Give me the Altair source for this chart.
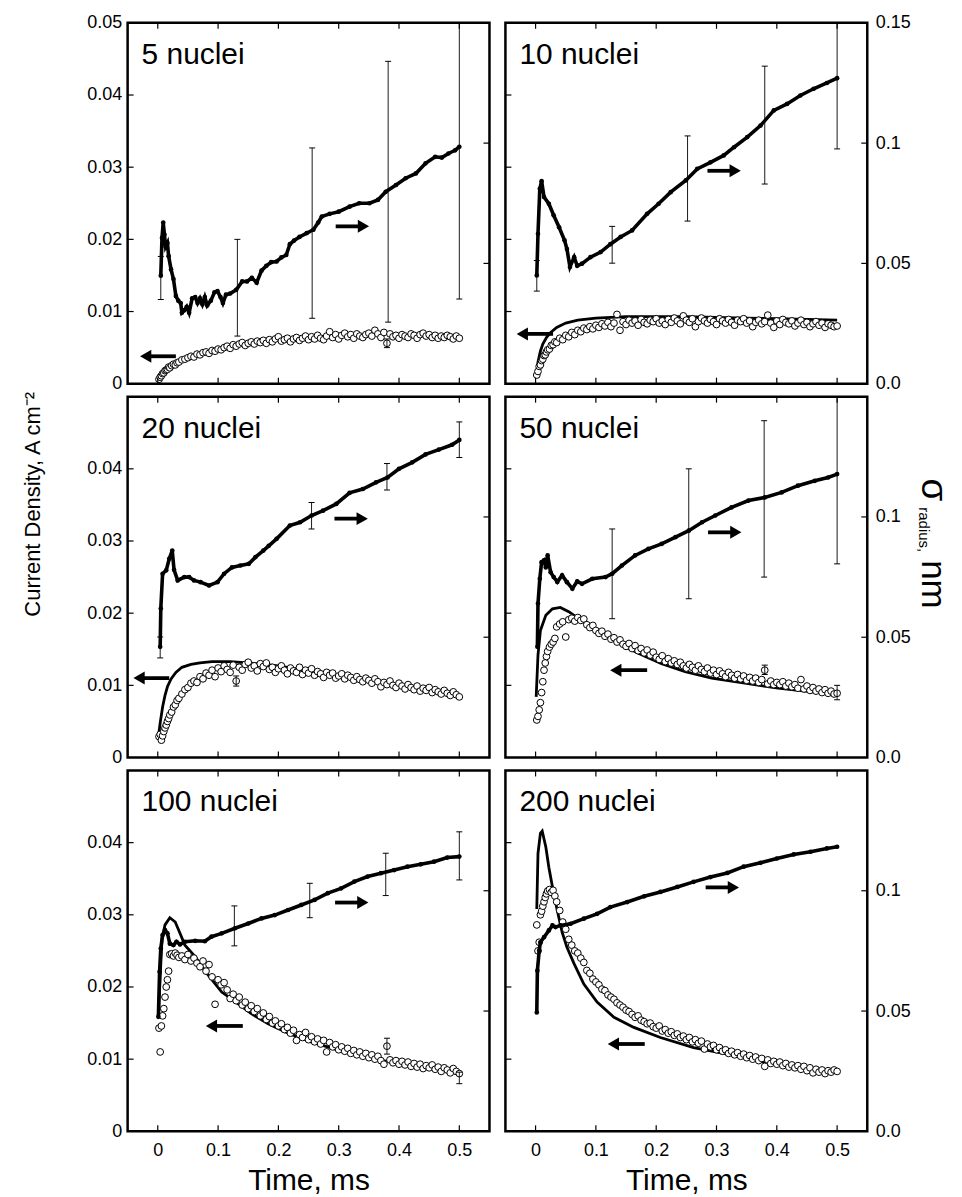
import altair as alt
import pandas as pd

FONT = "Liberation Sans"
W, H = 363, 362
TICK = 6
XDOM = [-0.05, 0.55]
JDOM = [0.0, 0.05]
SDOM = [0.0, 0.15]

X_TICKS = [0, 0.1, 0.2, 0.3, 0.4, 0.5]
J_TICKS_IN = [0.01, 0.02, 0.03, 0.04]
S_TICKS_IN = [0.05, 0.1]
J_LABELS_TOP = [0, 0.01, 0.02, 0.03, 0.04, 0.05]
J_LABELS = [0, 0.01, 0.02, 0.03, 0.04]
S_LABELS_TOP = [0, 0.05, 0.1, 0.15]
S_LABELS = [0, 0.05, 0.1]

LABELS = ["5 nuclei", "10 nuclei", "20 nuclei", "50 nuclei", "100 nuclei", "200 nuclei"]
LEFT_TITLE = "Current Density, A cm\u207b\u00b2"

# sampling times of the open circles (current density)
CIRC_T = [0.002, 0.004, 0.006, 0.008, 0.010, 0.012, 0.014, 0.016, 0.018, 0.020, 0.023, 0.026, 0.029, 0.032, 0.035,
          0.040, 0.045, 0.050, 0.055, 0.060, 0.065, 0.070, 0.075, 0.080, 0.085,
          0.090, 0.095, 0.100, 0.105, 0.110, 0.115, 0.120, 0.125, 0.130, 0.135,
          0.140, 0.145, 0.150, 0.155, 0.160, 0.165, 0.170, 0.175, 0.180, 0.185,
          0.190, 0.195, 0.200, 0.205, 0.210, 0.215, 0.220, 0.225, 0.230, 0.235,
          0.240, 0.245, 0.250, 0.255, 0.260, 0.265, 0.270, 0.275, 0.280, 0.285,
          0.290, 0.295, 0.300, 0.305, 0.310, 0.315, 0.320, 0.325, 0.330, 0.335,
          0.340, 0.345, 0.350, 0.355, 0.360, 0.365, 0.370, 0.375, 0.380, 0.385,
          0.390, 0.395, 0.400, 0.405, 0.410, 0.415, 0.420, 0.425, 0.430, 0.435,
          0.440, 0.445, 0.450, 0.455, 0.460, 0.465, 0.470, 0.475, 0.480, 0.485,
          0.490, 0.495, 0.500]

P1_J = [0.0006, 0.0009, 0.0011, 0.0014, 0.0015, 0.0018, 0.0019, 0.0020, 0.0023, 0.0022, 0.0025, 0.0027, 0.0026, 0.0029, 0.0030,
        0.0033, 0.0034, 0.0036, 0.0038, 0.0037, 0.0041, 0.0040, 0.0043, 0.0044, 0.0042,
        0.0046, 0.0045, 0.0048, 0.0047, 0.0050, 0.0052, 0.0049, 0.0054, 0.0052, 0.0055,
        0.0057, 0.0053, 0.0056, 0.0058, 0.0055, 0.0059, 0.0057, 0.0060, 0.0056, 0.0061,
        0.0058, 0.0062, 0.0065, 0.0059, 0.0061, 0.0063, 0.0058, 0.0062, 0.0064, 0.0060,
        0.0063, 0.0066, 0.0061, 0.0065, 0.0062, 0.0067, 0.0063, 0.0061, 0.0066, 0.0072,
        0.0064, 0.0068, 0.0062, 0.0067, 0.0070, 0.0065, 0.0068, 0.0063, 0.0069, 0.0066,
        0.0064, 0.0068, 0.0070, 0.0066, 0.0074, 0.0069, 0.0064, 0.0071, 0.0056, 0.0069,
        0.0065, 0.0067, 0.0063, 0.0068, 0.0066, 0.0064, 0.0069, 0.0067, 0.0063, 0.0068,
        0.0070, 0.0066, 0.0068, 0.0064, 0.0067, 0.0063, 0.0066, 0.0064, 0.0067, 0.0065,
        0.0062, 0.0066, 0.0063]
P2_J = [0.0012, 0.0017, 0.0024, 0.0026, 0.0032, 0.0034, 0.0039, 0.0040, 0.0044, 0.0047, 0.0048, 0.0053, 0.0054, 0.0058, 0.0057,
        0.0063, 0.0061, 0.0067, 0.0065, 0.0071, 0.0068, 0.0074, 0.0072, 0.0077, 0.0075,
        0.0079, 0.0076, 0.0081, 0.0078, 0.0083, 0.0080, 0.0085, 0.0079, 0.0084, 0.0096,
        0.0074, 0.0086, 0.0082, 0.0088, 0.0084, 0.0087, 0.0081, 0.0089, 0.0085, 0.0083,
        0.0088, 0.0086, 0.0090, 0.0084, 0.0087, 0.0082, 0.0089, 0.0085, 0.0091, 0.0087,
        0.0083, 0.0094, 0.0088, 0.0085, 0.0090, 0.0079, 0.0086, 0.0091, 0.0087, 0.0084,
        0.0089, 0.0086, 0.0082, 0.0090, 0.0087, 0.0084, 0.0089, 0.0085, 0.0081, 0.0088,
        0.0086, 0.0090, 0.0084, 0.0087, 0.0079, 0.0085, 0.0088, 0.0083, 0.0086, 0.0095,
        0.0084, 0.0078, 0.0087, 0.0082, 0.0089, 0.0085, 0.0083, 0.0087, 0.0080, 0.0084,
        0.0088, 0.0082, 0.0085, 0.0079, 0.0083, 0.0086, 0.0081, 0.0084, 0.0078, 0.0083,
        0.0081, 0.0079, 0.0080]
P3_J = [0.0029, 0.0032, 0.0024, 0.0030, 0.0036, 0.0041, 0.0045, 0.0050, 0.0054, 0.0059, 0.0063, 0.0070, 0.0073, 0.0079, 0.0082,
        0.0088, 0.0094, 0.0097, 0.0103, 0.0106, 0.0104, 0.0112, 0.0109, 0.0117, 0.0114,
        0.0121, 0.0112, 0.0124, 0.0119, 0.0127, 0.0122, 0.0118, 0.0128, 0.0106, 0.0125,
        0.0121, 0.0129, 0.0132, 0.0124, 0.0127, 0.0120, 0.0130, 0.0126, 0.0131, 0.0122,
        0.0125, 0.0118, 0.0123, 0.0127, 0.0121, 0.0116, 0.0124, 0.0120, 0.0118, 0.0125,
        0.0115, 0.0121, 0.0117, 0.0123, 0.0114, 0.0119, 0.0116, 0.0111, 0.0118, 0.0114,
        0.0117, 0.0110, 0.0113, 0.0116, 0.0109, 0.0114, 0.0111, 0.0107, 0.0112, 0.0108,
        0.0105, 0.0110, 0.0107, 0.0103, 0.0109, 0.0105, 0.0098, 0.0104, 0.0101, 0.0106,
        0.0100, 0.0097, 0.0103, 0.0099, 0.0095, 0.0101, 0.0097, 0.0094, 0.0099, 0.0092,
        0.0096, 0.0093, 0.0097, 0.0090, 0.0094, 0.0091, 0.0088, 0.0093, 0.0089, 0.0086,
        0.0091, 0.0087, 0.0084]
P4_J = [0.0052, 0.0057, 0.0066, 0.0076, 0.0090, 0.0105, 0.0121, 0.0131, 0.0140, 0.0147, 0.0153, 0.0157, 0.0160, 0.0165, 0.0181,
        0.0185, 0.0188, 0.0167, 0.0191, 0.0193, 0.0189, 0.0194, 0.0190, 0.0192, 0.0184,
        0.0180, 0.0183, 0.0176, 0.0172, 0.0175, 0.0168, 0.0171, 0.0164, 0.0166, 0.0160,
        0.0163, 0.0157, 0.0154, 0.0158, 0.0151, 0.0155, 0.0148, 0.0151, 0.0145, 0.0149,
        0.0142, 0.0146, 0.0139, 0.0136, 0.0141, 0.0133, 0.0137, 0.0131, 0.0134, 0.0129,
        0.0132, 0.0127, 0.0124, 0.0129, 0.0125, 0.0121, 0.0127, 0.0122, 0.0119, 0.0124,
        0.0117, 0.0121, 0.0115, 0.0120, 0.0116, 0.0112, 0.0118, 0.0114, 0.0110, 0.0115,
        0.0109, 0.0113, 0.0107, 0.0111, 0.0106, 0.0110, 0.0104, 0.0108, 0.0121, 0.0102,
        0.0106, 0.0101, 0.0104, 0.0101, 0.0105, 0.0099, 0.0103, 0.0098, 0.0101, 0.0096,
        0.0108, 0.0095, 0.0099, 0.0093, 0.0097, 0.0092, 0.0095, 0.0090, 0.0094, 0.0089,
        0.0092, 0.0088, 0.0089]
P5_J = [0.0143, 0.0110, 0.0146, 0.0160, 0.0170, 0.0186, 0.0200, 0.0210, 0.0222, 0.0245, 0.0246, 0.0243, 0.0247, 0.0244, 0.0241,
        0.0243, 0.0238, 0.0245, 0.0236, 0.0240, 0.0233, 0.0228, 0.0236, 0.0222, 0.0231,
        0.0214, 0.0176, 0.0210, 0.0203, 0.0206, 0.0196, 0.0184, 0.0190, 0.0181, 0.0186,
        0.0175, 0.0179, 0.0170, 0.0174, 0.0166, 0.0170, 0.0160, 0.0164, 0.0155, 0.0159,
        0.0150, 0.0153, 0.0146, 0.0149, 0.0141, 0.0144, 0.0136, 0.0140, 0.0126, 0.0134,
        0.0130, 0.0137, 0.0127, 0.0131, 0.0124, 0.0128, 0.0121, 0.0126, 0.0110, 0.0123,
        0.0117, 0.0120, 0.0113, 0.0117, 0.0111, 0.0115, 0.0108, 0.0112, 0.0106, 0.0110,
        0.0104, 0.0108, 0.0102, 0.0106, 0.0100, 0.0104, 0.0098, 0.0093, 0.0118, 0.0099,
        0.0095, 0.0098, 0.0093, 0.0097, 0.0092, 0.0096, 0.0090, 0.0094, 0.0089, 0.0093,
        0.0087, 0.0091, 0.0088, 0.0092, 0.0086, 0.0089, 0.0083, 0.0088, 0.0085, 0.0081,
        0.0087, 0.0083, 0.0080]
P6_J = [0.0286, 0.0250, 0.0262, 0.0300, 0.0305, 0.0312, 0.0318, 0.0324, 0.0329, 0.0333, 0.0335, 0.0331, 0.0334, 0.0326, 0.0318,
        0.0306, 0.0290, 0.0280, 0.0266, 0.0258, 0.0250, 0.0247, 0.0240, 0.0234, 0.0223,
        0.0219, 0.0211, 0.0207, 0.0203, 0.0197, 0.0195, 0.0189, 0.0186, 0.0183, 0.0178,
        0.0175, 0.0172, 0.0168, 0.0166, 0.0162, 0.0158, 0.0160, 0.0154, 0.0152, 0.0149,
        0.0150, 0.0145, 0.0143, 0.0146, 0.0139, 0.0141, 0.0136, 0.0138, 0.0133, 0.0135,
        0.0130, 0.0132, 0.0127, 0.0130, 0.0124, 0.0127, 0.0122, 0.0125, 0.0114, 0.0121,
        0.0117, 0.0119, 0.0113, 0.0116, 0.0111, 0.0113, 0.0108, 0.0111, 0.0106, 0.0109,
        0.0104, 0.0107, 0.0102, 0.0105, 0.0100, 0.0103, 0.0098, 0.0101, 0.0090, 0.0099,
        0.0094, 0.0097, 0.0093, 0.0096, 0.0091, 0.0094, 0.0089, 0.0092, 0.0088, 0.0091,
        0.0086, 0.0090, 0.0084, 0.0088, 0.0081, 0.0086, 0.0082, 0.0085, 0.0080, 0.0084,
        0.0082, 0.0085, 0.0083]

# theoretical current transients (solid lines)
P2_TH_T = [0.001, 0.004, 0.008, 0.012, 0.018, 0.025, 0.035, 0.05, 0.07, 0.1, 0.15, 0.2, 0.25, 0.3, 0.35, 0.4, 0.45, 0.5]
P2_TH_J = [0.0010, 0.0030, 0.0045, 0.0055, 0.0064, 0.0071, 0.0078, 0.0084, 0.0088, 0.0091, 0.0093, 0.0093, 0.0093,
           0.0092, 0.0091, 0.0090, 0.0089, 0.0088]
P3_TH_T = [0.002, 0.004, 0.008, 0.012, 0.016, 0.022, 0.03, 0.04, 0.055, 0.07, 0.09, 0.12, 0.15, 0.2, 0.25, 0.3, 0.35,
           0.4, 0.45, 0.5]
P3_TH_J = [0.0035, 0.0048, 0.0070, 0.0086, 0.0098, 0.0109, 0.0118, 0.0125, 0.0129, 0.0131, 0.0133, 0.0133, 0.0131,
           0.0127, 0.0120, 0.0113, 0.0106, 0.0099, 0.0093, 0.0087]
P4_TH_T = [0.001, 0.004, 0.008, 0.017, 0.028, 0.041, 0.055, 0.072, 0.099, 0.127, 0.154, 0.182, 0.209, 0.248, 0.292,
           0.347, 0.402, 0.458, 0.5]
P4_TH_J = [0.0084, 0.0142, 0.0176, 0.0197, 0.0206, 0.0208, 0.0202, 0.0192, 0.0176, 0.0163, 0.0151, 0.0140, 0.0130,
           0.0119, 0.0110, 0.0103, 0.0096, 0.0091, 0.0087]
P5_TH_T = [0.001, 0.007, 0.012, 0.020, 0.029, 0.037, 0.045, 0.062, 0.084, 0.106, 0.128, 0.155, 0.183, 0.216, 0.254,
           0.309, 0.364, 0.419, 0.5]
P5_TH_J = [0.0161, 0.0267, 0.0286, 0.0296, 0.0290, 0.0274, 0.0258, 0.0242, 0.0216, 0.0193, 0.0180, 0.0163, 0.0149,
           0.0136, 0.0124, 0.0110, 0.0099, 0.0092, 0.0082]
P6_TH_T = [0.002, 0.004, 0.008, 0.011, 0.017, 0.022, 0.029, 0.036, 0.044, 0.052, 0.064, 0.08, 0.102, 0.13, 0.163,
           0.207, 0.262, 0.318, 0.373, 0.428, 0.5]
P6_TH_J = [0.0308, 0.0385, 0.0413, 0.0416, 0.0394, 0.0366, 0.0334, 0.0306, 0.0276, 0.0255, 0.0232, 0.0204, 0.0179,
           0.0158, 0.0144, 0.0130, 0.0116, 0.0107, 0.0097, 0.0090, 0.0083]

# sigma(radius) curves (filled dots, right axis)
P1_S_T = [0.005, 0.007, 0.009, 0.011, 0.013, 0.016, 0.018, 0.022, 0.026, 0.030, 0.034, 0.038, 0.040, 0.044, 0.048,
          0.052, 0.057, 0.062, 0.066, 0.070, 0.074, 0.078, 0.082, 0.088, 0.094, 0.099, 0.104, 0.108, 0.113, 0.120,
          0.130, 0.140, 0.148, 0.156, 0.164, 0.172, 0.180, 0.188, 0.197, 0.205, 0.213, 0.219, 0.226, 0.235, 0.247,
          0.258, 0.266, 0.272, 0.285, 0.300, 0.318, 0.334, 0.351, 0.365, 0.378, 0.395, 0.411, 0.428, 0.444, 0.460,
          0.471, 0.482, 0.493, 0.500]
P1_S = [0.0449, 0.0606, 0.0670, 0.0620, 0.0570, 0.0585, 0.0530, 0.0475, 0.0435, 0.0365, 0.0345, 0.0335, 0.0295,
        0.0305, 0.0320, 0.0295, 0.0355, 0.0360, 0.0335, 0.0355, 0.0330, 0.0360, 0.0325, 0.0345, 0.0380, 0.0385,
        0.0360, 0.0335, 0.0370, 0.0375, 0.0390, 0.0425, 0.0425, 0.0440, 0.0420, 0.0470, 0.0490, 0.0505, 0.0508,
        0.0525, 0.0535, 0.0580, 0.0595, 0.0610, 0.0626, 0.0640, 0.0670, 0.0695, 0.0706, 0.0715, 0.0736, 0.0750,
        0.0750, 0.0764, 0.0798, 0.0826, 0.0854, 0.0874, 0.0916, 0.0943, 0.0940, 0.0957, 0.0970, 0.0985]
P2_S_T = [0.002, 0.004, 0.007, 0.010, 0.014, 0.022, 0.030, 0.039, 0.048, 0.052, 0.057, 0.064, 0.069, 0.077, 0.091,
          0.108, 0.124, 0.141, 0.160, 0.185, 0.204, 0.224, 0.249, 0.268, 0.290, 0.312, 0.329, 0.351, 0.373, 0.395,
          0.417, 0.439, 0.461, 0.483, 0.500]
P2_S = [0.045, 0.0623, 0.081, 0.0842, 0.0776, 0.0748, 0.070, 0.065, 0.0596, 0.056, 0.0485, 0.0526, 0.049, 0.0499,
        0.0526, 0.0547, 0.058, 0.061, 0.0637, 0.0706, 0.0748, 0.0796, 0.0845, 0.0893, 0.092, 0.0949, 0.0983, 0.1025,
        0.1073, 0.1136, 0.1163, 0.1198, 0.1226, 0.125, 0.127]
P3_S_T = [0.004, 0.005, 0.008, 0.014, 0.019, 0.024, 0.027, 0.033, 0.044, 0.052, 0.060, 0.071, 0.085, 0.099, 0.110,
          0.123, 0.137, 0.151, 0.162, 0.175, 0.184, 0.197, 0.219, 0.236, 0.255, 0.274, 0.296, 0.318, 0.340, 0.362,
          0.381, 0.400, 0.422, 0.444, 0.466, 0.488, 0.500]
P3_S = [0.046, 0.0619, 0.0764, 0.0778, 0.0826, 0.086, 0.078, 0.0736, 0.075, 0.075, 0.0736, 0.0729, 0.0715, 0.0729,
        0.0764, 0.079, 0.0798, 0.0805, 0.0833, 0.086, 0.088, 0.0909, 0.0964, 0.0978, 0.1006, 0.1026, 0.1054, 0.110,
        0.1116, 0.1144, 0.1164, 0.120, 0.1227, 0.126, 0.128, 0.130, 0.132]
P4_S_T = [0.003, 0.004, 0.007, 0.010, 0.014, 0.017, 0.020, 0.025, 0.030, 0.036, 0.044, 0.052, 0.061, 0.069, 0.077,
          0.094, 0.116, 0.127, 0.143, 0.165, 0.187, 0.209, 0.232, 0.254, 0.276, 0.298, 0.325, 0.353, 0.380, 0.408,
          0.435, 0.463, 0.485, 0.500]
P4_S = [0.046, 0.064, 0.0743, 0.0812, 0.082, 0.079, 0.084, 0.077, 0.075, 0.073, 0.0757, 0.0729, 0.0702, 0.0732,
        0.0722, 0.0743, 0.075, 0.0764, 0.0798, 0.084, 0.0867, 0.0888, 0.0916, 0.0943, 0.0978, 0.1006, 0.104, 0.1068,
        0.1081, 0.1102, 0.113, 0.115, 0.1164, 0.1178]
P5_S_T = [0.001, 0.003, 0.005, 0.008, 0.012, 0.016, 0.020, 0.026, 0.031, 0.037, 0.045, 0.062, 0.078, 0.089, 0.106,
          0.128, 0.150, 0.172, 0.194, 0.216, 0.238, 0.260, 0.282, 0.304, 0.326, 0.348, 0.370, 0.392, 0.414, 0.436,
          0.458, 0.480, 0.500]
P5_S = [0.0476, 0.0663, 0.076, 0.0816, 0.0837, 0.0823, 0.078, 0.0774, 0.0788, 0.0777, 0.0788, 0.0792, 0.079, 0.0809,
        0.0823, 0.0844, 0.0864, 0.0885, 0.0899, 0.092, 0.0941, 0.0962, 0.099, 0.101, 0.1038, 0.1059, 0.1073, 0.1086,
        0.110, 0.111, 0.1121, 0.1138, 0.1142]
P6_S_T = [0.002, 0.003, 0.006, 0.008, 0.014, 0.022, 0.028, 0.033, 0.041, 0.058, 0.080, 0.102, 0.124, 0.152, 0.180,
          0.207, 0.235, 0.262, 0.290, 0.318, 0.345, 0.373, 0.400, 0.428, 0.456, 0.483, 0.500]
P6_S = [0.0494, 0.0668, 0.0751, 0.0786, 0.0807, 0.0835, 0.0856, 0.0849, 0.0856, 0.0863, 0.0884, 0.0904, 0.0932,
        0.0953, 0.0977, 0.0995, 0.1016, 0.1037, 0.1057, 0.1074, 0.110, 0.1116, 0.1134, 0.1151, 0.1162, 0.1176, 0.1183]

# error bars: (time, low, high)
P1_S_ERR = [(0.005, 0.035, 0.0529), (0.132, 0.0198, 0.060), (0.256, 0.0272, 0.098), (0.382, 0.0256, 0.134), (0.5, 0.0352, 0.150)]
P2_S_ERR = [(0.002, 0.0385, 0.0512), (0.127, 0.0501, 0.0654), (0.252, 0.0676, 0.103), (0.38, 0.083, 0.132), (0.5, 0.0976, 0.150)]
P3_S_ERR = [(0.004, 0.0414, 0.0501), (0.255, 0.095, 0.106), (0.38, 0.1112, 0.1222), (0.5, 0.1247, 0.1395)]
P4_S_ERR = [(0.127, 0.0577, 0.095), (0.254, 0.066, 0.120), (0.379, 0.075, 0.140), (0.5, 0.0805, 0.150)]
P5_S_ERR = [(0.127, 0.0771, 0.0937), (0.252, 0.0888, 0.1031), (0.378, 0.098, 0.1156), (0.5, 0.1045, 0.1245)]
P6_S_ERR = []
P1_J_ERR = [(0.380, 0.0050, 0.0062)]
P3_J_ERR = [(0.130, 0.0099, 0.0113)]
P4_J_ERR = [(0.380, 0.0115, 0.0128), (0.500, 0.0080, 0.0100)]
P5_J_ERR = [(0.380, 0.0107, 0.0129), (0.500, 0.0066, 0.0082)]

# arrows: (shaft start, head centre, current-density level)
ARROW_R = [(0.295, 0.341, 0.0218), (0.285, 0.331, 0.0295), (0.293, 0.339, 0.0331),
           (0.286, 0.332, 0.0312), (0.294, 0.340, 0.0317), (0.282, 0.328, 0.0338)]
ARROW_L = [(0.030, -0.020, 0.0038), (0.029, -0.022, 0.0069), (0.019, -0.031, 0.0110),
           (0.185, 0.133, 0.0121), (0.141, 0.089, 0.0146), (0.181, 0.129, 0.0121)]

PANELS = [
    dict(j=P1_J, th_t=[], th_j=[], s_t=P1_S_T, s=P1_S, s_err=P1_S_ERR, j_err=P1_J_ERR),
    dict(j=P2_J, th_t=P2_TH_T, th_j=P2_TH_J, s_t=P2_S_T, s=P2_S, s_err=P2_S_ERR, j_err=[]),
    dict(j=P3_J, th_t=P3_TH_T, th_j=P3_TH_J, s_t=P3_S_T, s=P3_S, s_err=P3_S_ERR, j_err=P3_J_ERR),
    dict(j=P4_J, th_t=P4_TH_T, th_j=P4_TH_J, s_t=P4_S_T, s=P4_S, s_err=P4_S_ERR, j_err=P4_J_ERR),
    dict(j=P5_J, th_t=P5_TH_T, th_j=P5_TH_J, s_t=P5_S_T, s=P5_S, s_err=P5_S_ERR, j_err=P5_J_ERR),
    dict(j=P6_J, th_t=P6_TH_T, th_j=P6_TH_J, s_t=P6_S_T, s=P6_S, s_err=P6_S_ERR, j_err=[]),
]


def err_layers(errs, X, Y):
    df = pd.DataFrame(errs, columns=["t", "lo", "hi"])
    caps = pd.DataFrame({"t": list(df.t) + list(df.t), "v": list(df.lo) + list(df.hi)})
    bars = alt.Chart(df).mark_rule(color="black", strokeWidth=0.9).encode(x=X("t"), y=Y("lo"), y2="hi")
    tk = alt.Chart(caps).mark_tick(orient="horizontal", color="black", size=6, thickness=1, opacity=1).encode(
        x=X("t"), y=Y("v"))
    return [bars, tk]


def build_panel(i, p):
    row, col = divmod(i, 2)
    xs = alt.Scale(domain=XDOM, nice=False, zero=False)
    js = alt.Scale(domain=JDOM, nice=False, zero=False)
    ss = alt.Scale(domain=SDOM, nice=False, zero=False)

    x_axis = None
    if row == 2:
        x_axis = alt.Axis(values=X_TICKS, labelExpr="toString(datum.value)", ticks=False, tickSize=0, domain=False,
                          grid=False, labelPadding=10, labelFontSize=18, labelFont=FONT, labelColor="black",
                          title="Time, ms", titleFont=FONT, titleFontSize=30, titleFontWeight="normal",
                          titleColor="black", titlePadding=6)
    j_axis = None
    if col == 0:
        j_axis = alt.Axis(values=J_LABELS_TOP if row == 0 else J_LABELS, labelExpr="toString(datum.value)",
                          ticks=False, tickSize=0, domain=False, grid=False, labelPadding=6, labelFontSize=18,
                          labelFont=FONT, labelColor="black", title=None)
    s_axis = None
    if col == 1:
        s_axis = alt.Axis(values=S_LABELS_TOP if row == 0 else S_LABELS, orient="right",
                          labelExpr="datum.value === 0 ? '0.0' : toString(datum.value)",
                          ticks=False, tickSize=0, domain=False, grid=False, labelPadding=8, labelFontSize=18,
                          labelFont=FONT, labelColor="black", title=None)

    def X(f):
        return alt.X(f, type="quantitative", scale=xs, axis=x_axis)

    def YJ(f):
        return alt.Y(f, type="quantitative", scale=js, axis=j_axis)

    def YS(f):
        return alt.Y(f, type="quantitative", scale=ss, axis=s_axis)

    left = []
    if p["th_t"]:
        th = pd.DataFrame({"t": p["th_t"], "j": p["th_j"]})
        left.append(alt.Chart(th).mark_line(color="black", strokeWidth=2.8).encode(x=X("t"), y=YJ("j")))
    circ = pd.DataFrame({"t": CIRC_T, "j": p["j"]})
    left.append(alt.Chart(circ).mark_point(shape="circle", filled=True, fill="white", stroke="black",
                                           strokeWidth=1, size=46, opacity=1).encode(x=X("t"), y=YJ("j")))
    if p["j_err"]:
        left += err_layers(p["j_err"], X, YJ)

    ar = pd.DataFrame([ARROW_R[i]], columns=["a", "b", "j"])
    al = pd.DataFrame([ARROW_L[i]], columns=["a", "b", "j"])
    for df, shape in ((ar, "triangle-right"), (al, "triangle-left")):
        left.append(alt.Chart(df).mark_rule(color="black", strokeWidth=3.8).encode(x=X("a"), x2="b", y=YJ("j")))
        left.append(alt.Chart(df).mark_point(shape=shape, filled=True, color="black", size=170, opacity=1,
                                             strokeWidth=0).encode(x=X("b"), y=YJ("j")))

    xt = pd.DataFrame({"v": X_TICKS})
    left.append(alt.Chart(xt).mark_rule(color="black", strokeWidth=1.2).encode(
        x=X("v"), y=alt.value(0), y2=alt.value(TICK)))
    left.append(alt.Chart(xt).mark_rule(color="black", strokeWidth=1.2).encode(
        x=X("v"), y=alt.value(H - TICK), y2=alt.value(H)))
    jt = pd.DataFrame({"v": J_TICKS_IN})
    left.append(alt.Chart(jt).mark_rule(color="black", strokeWidth=1.2).encode(
        y=YJ("v"), x=alt.value(0), x2=alt.value(TICK)))

    lab = pd.DataFrame({"s": [LABELS[i]]})
    left.append(alt.Chart(lab).mark_text(align="left", baseline="alphabetic", fontSize=30, font=FONT,
                                         color="black").encode(x=alt.value(14), y=alt.value(41), text="s"))

    if i == 2:
        lt = pd.DataFrame({"s": [LEFT_TITLE]})
        left.append(alt.Chart(lt).mark_text(angle=270, align="center", baseline="alphabetic", fontSize=22,
                                            font=FONT, color="black").encode(
            x=alt.value(-88), y=alt.value(108), text="s"))
    if i == 3:
        for txt, fs, dx, y in (("\u03c3", 37, 55, 82), ("radius,", 15, 52, 111), ("nm", 35, 55, 164)):
            d = pd.DataFrame({"s": [txt]})
            left.append(alt.Chart(d).mark_text(angle=90, align="left", baseline="alphabetic", fontSize=fs,
                                               font=FONT, color="black").encode(
                x=alt.value(W + dx), y=alt.value(y), text="s"))

    right = []
    sg = pd.DataFrame({"t": p["s_t"], "s": p["s"]})
    right.append(alt.Chart(sg).mark_line(color="black", strokeWidth=3.6).encode(x=X("t"), y=YS("s")))
    right.append(alt.Chart(sg).mark_point(shape="circle", filled=True, color="black", size=22, opacity=1).encode(
        x=X("t"), y=YS("s")))
    if p["s_err"]:
        right += err_layers(p["s_err"], X, YS)
    st = pd.DataFrame({"v": S_TICKS_IN})
    right.append(alt.Chart(st).mark_rule(color="black", strokeWidth=1.2).encode(
        y=YS("v"), x=alt.value(W - TICK), x2=alt.value(W)))

    return alt.layer(alt.layer(*left), alt.layer(*right)).resolve_scale(y="independent").properties(
        width=W, height=H)


panels = [build_panel(i, p) for i, p in enumerate(PANELS)]
chart = alt.concat(*panels, columns=2, spacing={"row": 13, "column": 16}, bounds="flush").properties(
    padding={"left": 12, "top": 2, "right": 0, "bottom": 0}
).configure_view(stroke="black", strokeWidth=2.5)

chart.save("out.html", embed_options={"renderer": "svg", "actions": False})
